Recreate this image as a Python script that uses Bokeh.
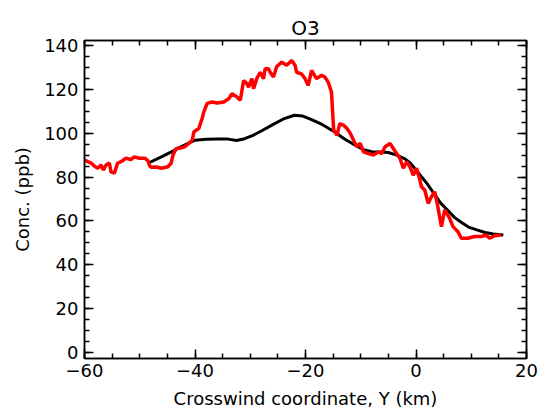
from bokeh.plotting import figure
from bokeh.models import Range1d, LinearAxis, FixedTicker
from bokeh.embed import file_html
from bokeh.resources import INLINE

# Modelled O3 concentration across the plume (smooth curve)
model_y_km = [-48.5, -46.0, -44.0, -42.0, -40.0, -38.0, -36.0, -34.0, -32.5, -31.0,
              -29.5, -28.0, -26.0, -24.0, -22.0, -20.5, -19.0, -17.0, -15.0, -13.0,
              -11.0, -9.5, -8.0, -6.5, -5.0, -3.5, -2.0, -1.0, 0.3, 2.0,
              3.2, 4.5, 5.7, 7.0, 8.1, 9.5, 11.0, 12.5, 14.0, 15.8]
model_conc = [86.3, 89.3, 91.8, 94.5, 96.8, 97.2, 97.3, 97.3, 96.7, 97.5,
              99.0, 101.0, 103.8, 106.5, 108.2, 107.8, 106.3, 104.0, 101.0, 97.5,
              94.5, 92.5, 91.6, 91.4, 91.2, 90.0, 88.3, 86.3, 82.3, 77.0,
              72.7, 68.0, 65.0, 61.5, 59.5, 57.2, 55.9, 54.7, 54.0, 53.6]

# Measured O3 concentration along the crosswind track
obs_y_km = [-60.0, -59.4, -58.8, -58.2, -57.6, -57.0, -56.6, -56.1, -55.5, -55.2,
            -54.6, -54.0, -53.4, -52.5, -51.6, -51.0, -50.1, -49.1, -48.5, -48.2,
            -47.9, -47.0, -46.1, -44.9, -44.3, -44.0, -43.4, -42.6, -41.9, -41.1,
            -40.5, -40.2, -39.3, -38.7, -38.4, -37.8, -36.9, -36.0, -34.8, -33.9,
            -33.3, -32.4, -31.8, -31.2, -30.6, -30.3, -29.7, -29.4, -28.8, -28.2,
            -27.6, -27.3, -26.7, -26.4, -25.8, -25.2, -24.3, -23.4, -22.5, -21.9,
            -21.6, -20.7, -20.1, -19.5, -18.9, -18.0, -17.1, -16.5, -15.9, -15.3,
            -14.9, -14.3, -13.8, -13.1, -12.5, -11.9, -11.3, -10.7, -10.1, -9.5,
            -8.6, -7.7, -6.8, -6.2, -5.6, -4.7, -4.1, -3.5, -2.9, -2.3,
            -1.7, -1.1, -0.5, -0.2, 0.1, 0.7, 1.0, 1.6, 2.2, 2.8,
            3.4, 4.0, 4.6, 5.2, 6.1, 6.7, 7.6, 8.2, 9.4, 10.6,
            11.8, 12.7, 13.3, 14.2, 15.4]
obs_conc = [87.7, 87.0, 86.4, 85.0, 84.0, 85.5, 83.2, 85.5, 86.4, 82.4,
            81.8, 86.4, 87.0, 88.6, 88.0, 89.2, 88.6, 88.6, 87.4, 85.0,
            84.5, 84.6, 84.0, 84.7, 86.4, 90.0, 93.0, 93.2, 93.8, 95.4,
            96.8, 100.6, 102.2, 106.8, 109.7, 113.6, 114.2, 113.8, 114.2, 115.7,
            118.0, 116.5, 115.0, 124.0, 122.6, 121.0, 124.9, 120.3, 125.0, 127.8,
            124.9, 129.4, 129.4, 127.8, 125.6, 130.4, 132.4, 131.0, 133.2, 131.0,
            127.8, 127.0, 124.9, 121.8, 128.6, 124.9, 126.4, 125.6, 123.3, 118.8,
            101.4, 99.0, 104.4, 103.6, 102.2, 100.0, 96.8, 93.8, 95.4, 91.5,
            90.7, 90.0, 91.5, 90.7, 93.8, 95.3, 93.0, 90.7, 88.5, 84.0,
            87.0, 84.7, 80.9, 82.4, 84.0, 78.6, 75.6, 74.0, 68.0, 71.0,
            73.3, 65.8, 57.4, 65.0, 61.2, 57.4, 55.1, 52.1, 52.1, 52.9,
            52.9, 53.6, 52.1, 53.2, 53.6]

x_ticks = [-60, -40, -20, 0, 20]
x_tick_labels = ["\u221260", "\u221240", "\u221220", "0", "20"]
y_ticks = [0, 20, 40, 60, 80, 100, 120, 140]

FONT = "DejaVu Sans"
FS = "18px"

p = figure(width=541, height=411, output_backend="svg", toolbar_location=None,
           x_range=Range1d(-60, 20), y_range=Range1d(-2.73, 142.27),
           x_axis_location=None, y_axis_location=None,
           min_border_left=84, min_border_right=15, min_border_top=40,
           min_border_bottom=52, title="O3")
p.title.align = "center"
p.title.text_font = FONT
p.title.text_font_size = "20px"
p.title.text_font_style = "normal"
p.title.text_color = "black"
p.title.standoff = 2
p.xgrid.visible = False
p.ygrid.visible = False
p.background_fill_color = "white"
p.border_fill_color = "white"
p.outline_line_color = "black"
p.outline_line_width = 1.5

xt = FixedTicker(ticks=x_ticks, minor_ticks=list(range(-60, 21, 5)))
yt = FixedTicker(ticks=y_ticks, minor_ticks=list(range(0, 141, 5)))


def style(ax):
    ax.axis_line_color = "black"
    ax.axis_line_width = 1.5
    ax.major_tick_line_color = "black"
    ax.minor_tick_line_color = "black"
    ax.major_tick_line_width = 1.5
    ax.minor_tick_line_width = 1.5
    ax.major_tick_out = 0
    ax.minor_tick_out = 0
    ax.major_tick_in = 9
    ax.minor_tick_in = 5
    ax.major_label_text_font = FONT
    ax.major_label_text_font_size = FS
    ax.major_label_text_color = "black"
    ax.axis_label_text_font = FONT
    ax.axis_label_text_font_size = FS
    ax.axis_label_text_font_style = "normal"
    ax.axis_label_text_color = "black"


bottom = LinearAxis(ticker=xt, axis_label="Crosswind coordinate, Y (km)",
                    major_label_overrides=dict(zip(x_ticks, x_tick_labels)))
style(bottom)
bottom.major_label_standoff = 5
bottom.axis_label_standoff = 8
p.add_layout(bottom, "below")

left = LinearAxis(ticker=yt, axis_label="Conc. (ppb)")
style(left)
left.major_label_standoff = 6
left.axis_label_standoff = 8
p.add_layout(left, "left")

# mirrored tick marks on the upper and right edges, without labels
top = LinearAxis(ticker=xt, major_label_overrides={t: "" for t in x_ticks})
style(top)
top.major_label_standoff = 0
p.add_layout(top, "above")

right = LinearAxis(ticker=yt, major_label_overrides={t: "" for t in y_ticks})
style(right)
right.major_label_standoff = 0
p.add_layout(right, "right")

p.line(model_y_km, model_conc, line_color="black", line_width=3)
p.line(obs_y_km, obs_conc, line_color="red", line_width=3.5)

open("out.html", "w").write(file_html(p, INLINE))
